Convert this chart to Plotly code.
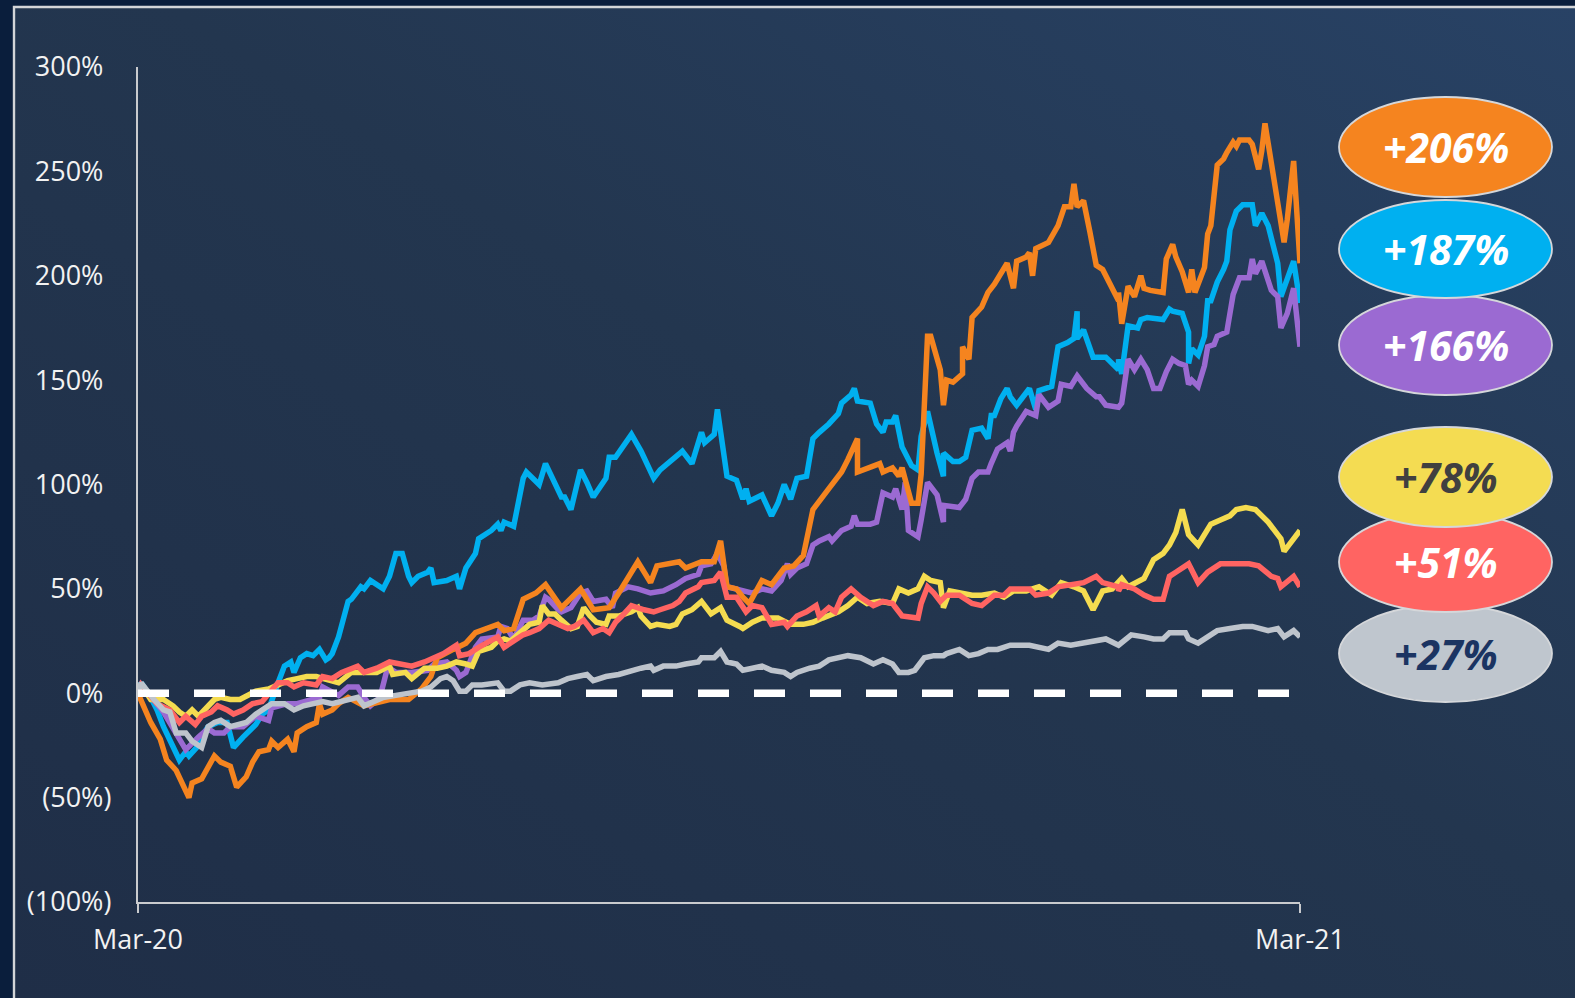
import base64
import pandas as pd
import plotly.graph_objects as go

# ---------------- data (days since 2 Mar 2020, % change) ----------------
START = "2020-03-02"

orange_days = [0,4,7,9,12,14,16,17,20,24,26,29,31,34,36,38,41,42,44,47,49,50,53,56,57,58,61,63,66,71,79,85,89,92,94,99,103,106,113,115,118,121,125,128,133,135,139,143,148,151,155,157,159,161,163,167,170,172,177,181,183,185,188,190,192,196,199,203,206,209,212,217,221,223,226,226,230,233,234,237,239,240,243,245,246,248,249,252,253,254,256,259,259,261,262,265,267,269,273,275,276,279,280,281,282,285,286,289,291,293,294,295,297,299,301,303,304,308,308,309,311,313,315,316,318,322,323,325,326,328,330,331,332,335,336,337,339,341,342,344,345,346,349,350,352,353,354,355,356,358,360,361,363,365]
orange_vals = [0,-14,-22,-32,-37,-43,-50,-43,-41,-30,-33,-35,-45,-40,-33,-28,-27,-23,-26,-22,-28,-19,-16,-14,-5,-10,-8,-5,-2,-6,-3,-3,2,8,17,21,24,29,33,30,31,45,48,52,41,44,50,40,41,48,58,63,58,53,61,62,63,60,63,63,73,51,50,46,43,54,52,60,61,66,88,98,106,112,122,106,108,110,106,108,104,108,91,91,105,171,171,155,138,150,149,153,166,160,180,185,192,196,206,194,207,209,211,200,213,215,216,224,233,233,244,233,236,221,205,203,200,188,192,177,195,190,200,194,193,192,208,215,209,202,192,203,192,204,220,224,253,256,259,264,262,265,265,263,251,260,273,263,253,235,216,227,255,206]

blue_days = [0,1,4,6,8,10,13,15,16,19,20,22,25,28,30,33,37,39,41,44,46,48,49,51,53,55,57,59,60,61,63,66,67,70,71,73,77,79,81,83,85,86,88,91,92,93,97,100,101,103,105,106,107,111,113,114,115,118,121,122,126,128,133,134,136,139,141,143,147,148,150,154,155,158,160,162,164,168,171,174,177,178,181,182,185,188,190,191,192,196,199,201,203,205,207,210,212,214,217,220,221,224,225,226,230,232,234,235,237,238,240,243,245,246,248,251,253,253,256,258,260,262,265,267,268,269,271,273,274,276,280,282,283,287,289,292,294,295,295,297,300,304,308,308,309,311,314,315,317,322,324,325,328,330,330,331,333,335,336,337,339,341,342,343,345,347,350,351,353,355,356,358,359,361,363,365]
blue_vals = [0,5,-2,-8,-16,-22,-32,-28,-30,-25,-21,-16,-14,-14,-26,-21,-15,-10,-8,5,13,15,10,17,19,18,21,16,17,19,27,44,45,51,50,54,50,56,67,67,56,53,56,58,60,53,54,56,50,60,64,67,74,78,81,78,82,80,103,106,100,110,94,94,88,107,101,94,103,113,113,122,124,116,110,103,107,112,116,110,125,120,124,136,104,102,93,98,92,95,85,91,100,93,103,104,122,125,129,134,139,143,146,140,139,129,125,130,130,133,118,109,107,123,135,115,104,115,111,111,113,126,127,122,133,133,141,146,142,138,146,136,145,147,166,168,170,183,170,174,161,161,155,160,153,176,175,179,180,179,184,183,182,173,158,165,162,171,188,188,197,203,207,222,231,234,234,224,230,224,217,206,190,199,207,187]

purple_days = [0,1,8,11,15,19,22,24,27,29,33,37,41,42,47,50,53,57,58,63,66,69,71,73,76,78,79,81,86,91,93,97,100,101,103,106,108,113,114,116,118,121,124,126,128,129,132,133,136,139,141,143,147,149,150,154,157,161,165,169,172,176,177,180,182,184,185,188,190,193,196,199,202,204,205,207,210,212,214,217,218,220,221,224,225,226,230,232,234,237,238,240,241,242,245,246,248,251,253,253,258,260,262,264,267,268,270,273,274,275,276,279,282,283,286,289,290,293,295,298,301,302,304,308,309,311,313,315,317,319,321,323,325,327,329,330,331,333,335,336,338,339,342,344,346,349,350,351,353,356,358,359,361,363,365]
purple_vals = [0,4,-9,-17,-27,-21,-17,-19,-19,-16,-16,-11,-13,-7,-5,-5,-4,-2,3,-1,3,3,-2,-6,-2,10,12,10,10,11,14,15,11,8,10,22,26,27,32,31,26,35,35,37,46,45,40,39,41,48,49,44,45,41,48,51,50,48,49,52,55,57,61,62,67,61,51,50,49,48,50,49,54,62,57,60,62,71,73,75,73,77,78,80,85,81,81,82,96,94,98,88,101,78,75,83,101,95,82,90,89,93,103,106,106,110,117,120,116,125,128,135,133,143,137,140,148,147,152,146,142,142,138,137,139,160,155,160,155,146,146,154,160,158,157,148,150,147,157,166,167,171,173,191,199,199,208,201,207,193,190,175,182,194,166]

yellow_days = [0,1,4,8,11,13,15,17,19,22,24,26,29,32,35,37,41,44,47,50,53,56,60,63,67,71,75,79,80,84,86,90,94,97,100,103,105,107,111,113,115,117,120,123,126,127,129,131,133,136,138,140,142,144,147,148,151,155,157,158,161,163,167,169,171,174,177,180,183,185,189,190,193,196,201,205,209,212,215,220,223,226,229,233,237,239,242,245,247,249,252,253,255,258,262,265,269,272,275,279,283,287,290,294,297,300,303,306,309,311,315,316,319,322,324,326,328,330,333,337,340,343,345,348,351,355,358,359,360,363,365]
yellow_vals = [0,4,-3,-3,-6,-9,-11,-8,-11,-6,-3,-2,-3,-3,-1,1,2,4,6,7,8,8,6,5,10,10,10,13,9,10,7,12,12,13,15,14,13,20,22,25,26,25,29,33,34,42,38,38,35,31,32,41,37,34,33,37,37,39,41,37,32,33,32,33,38,40,44,38,41,35,32,31,34,36,36,33,33,34,36,39,42,46,43,44,43,50,48,50,56,54,53,41,49,48,47,47,48,46,49,49,51,47,53,51,49,40,49,50,55,51,54,55,64,67,71,77,88,76,71,81,83,85,88,89,88,82,76,74,68,74,78]

red_days = [0,1,6,10,13,15,18,20,23,25,28,30,33,36,39,42,44,47,49,52,56,58,61,64,67,69,71,75,79,83,86,90,93,96,99,100,101,104,107,111,113,115,118,121,123,126,129,132,135,137,140,143,146,148,150,152,155,159,162,164,168,170,172,176,177,181,183,185,188,191,193,196,199,203,204,207,210,213,214,217,219,221,224,227,231,234,237,240,243,245,246,248,250,252,254,258,262,265,269,272,274,280,282,286,289,293,297,301,303,308,308,309,313,316,319,322,324,326,328,330,333,336,340,344,349,352,356,358,359,363,365]
red_vals = [0,4,-5,-8,-14,-11,-15,-11,-9,-6,-8,-10,-8,-5,-4,2,5,5,3,5,4,8,7,10,12,13,10,12,15,14,13,15,17,19,22,23,18,19,22,25,27,22,25,28,29,31,35,33,31,32,35,29,31,29,34,37,42,40,39,40,42,44,48,51,53,54,58,46,46,39,42,41,33,34,32,37,39,42,37,41,39,46,50,46,42,44,43,37,36,36,43,51,48,44,47,47,43,42,47,47,50,50,47,48,51,52,53,56,53,51,49,52,50,47,45,45,56,58,60,62,53,58,62,62,62,61,56,55,51,56,51]

gray_days = [0,1,5,8,10,12,15,17,20,22,24,26,29,31,34,37,39,42,46,49,52,55,58,61,64,69,71,74,77,81,85,89,92,95,97,99,101,103,105,108,113,115,117,120,123,127,132,135,138,141,143,147,151,155,158,161,162,165,169,172,176,177,181,183,185,188,190,193,196,199,203,205,207,211,214,217,221,223,227,231,234,237,239,242,244,247,250,253,254,258,261,264,267,270,274,277,280,286,289,293,297,301,304,308,312,316,319,322,324,329,330,333,336,339,343,347,350,355,358,360,363,365]
gray_vals = [0,5,-3,-8,-9,-19,-19,-23,-26,-16,-14,-13,-16,-15,-14,-10,-8,-5,-5,-8,-6,-5,-4,-5,-4,-2,-6,-4,-2,-1,0,1,3,7,8,6,1,1,4,4,5,1,1,4,5,4,5,7,8,9,6,8,9,11,12,13,11,13,13,14,15,17,17,20,15,14,11,12,13,11,10,8,10,12,13,16,17,18,17,14,16,14,10,10,11,17,18,18,19,21,18,19,21,21,23,23,23,21,24,23,24,25,26,23,28,27,26,26,29,29,26,24,27,30,31,32,32,30,31,27,30,27]

end_labels = ["+206%", "+187%", "+166%", "+78%", "+51%", "+27%"]
y_ticks = [-100, -50, 0, 50, 100, 150, 200, 250, 300]
x_tick_labels = ["Mar-20", "Mar-21"]

# ---------------- styling ----------------
W, H = 1575, 998
C_ORANGE, C_BLUE, C_PURPLE = "#f5841f", "#00b0f0", "#9b6ad2"
C_YELLOW, C_RED, C_GRAY = "#f5dc50", "#ff6462", "#bec4cc"
AXIS_C = "#c9cbce"
TXT_C = "#f2f2f2"

start = pd.Timestamp(START)
def to_dates(days):
    return start + pd.to_timedelta(days, unit="D")

def ytext(v):
    if v < 0:
        return f"({abs(v)}%)"
    return f"{v}%<span style='color:rgba(0,0,0,0)'>)</span>"

fig = go.Figure()

series = [
    (blue_days, blue_vals, C_BLUE),
    (purple_days, purple_vals, C_PURPLE),
    (orange_days, orange_vals, C_ORANGE),
    (yellow_days, yellow_vals, C_YELLOW),
    (red_days, red_vals, C_RED),
    (gray_days, gray_vals, C_GRAY),
]
for d, v, c in series:
    fig.add_trace(go.Scatter(x=to_dates(d), y=v, mode="lines",
                             line=dict(color=c, width=5.5), hoverinfo="skip"))

# dashed zero line on top
fig.add_trace(go.Scatter(x=to_dates([0, 365]), y=[0, 0], mode="lines",
                         line=dict(color="white", width=7.5, dash="31px,25px"),
                         hoverinfo="skip"))

# background panel as svg image
svg = f'''<svg xmlns="http://www.w3.org/2000/svg" width="{W}" height="{H}" viewBox="0 0 {W} {H}" preserveAspectRatio="none">
<defs><linearGradient id="g" x1="0" y1="1" x2="1" y2="0">
<stop offset="0" stop-color="#1f2e47"/><stop offset="0.55" stop-color="#23364f"/><stop offset="1" stop-color="#284265"/>
</linearGradient></defs>
<rect width="{W}" height="{H}" fill="#0a1e3c"/>
<rect x="13" y="6" width="{W-13}" height="{H-6}" fill="url(#g)"/>
<path d="M14 {H} V7 H{W}" stroke="#d3d5d8" stroke-width="2.4" fill="none"/>
</svg>'''
src = "data:image/svg+xml;base64," + base64.b64encode(svg.encode()).decode()
fig.add_layout_image(dict(source=src, xref="paper", yref="paper", x=0, y=1,
                          sizex=1, sizey=1, sizing="stretch", layer="below",
                          xanchor="left", yanchor="top"))

# plot area in pixels
PL, PR, PT, PB = 138, 1300, 67, 902

fig.update_layout(
    template="none",
    width=W, height=H,
    margin=dict(l=0, r=0, t=0, b=0, pad=0, autoexpand=False),
    paper_bgcolor="#0a1e3c", plot_bgcolor="rgba(0,0,0,0)",
    showlegend=False, hovermode=False,
    font=dict(family="Open Sans", color=TXT_C, size=27),
    xaxis=dict(domain=[PL / W, PR / W], type="date", automargin=False,
               range=[to_dates([0])[0], to_dates([365])[0]],
               tickvals=list(to_dates([0, 365])), ticktext=x_tick_labels,
               showgrid=False, zeroline=False, showline=True,
               linecolor=AXIS_C, linewidth=2.4,
               ticks="outside", ticklen=9, tickwidth=2.4, tickcolor=AXIS_C,
               tickfont=dict(size=27, color=TXT_C, family="Open Sans"),
               ticklabelstandoff=3),
    yaxis=dict(domain=[1 - PB / H, 1 - PT / H], range=[-100, 300], automargin=False,
               tickvals=y_ticks, ticktext=[ytext(v) for v in y_ticks],
               showgrid=False, zeroline=False, showline=True,
               linecolor=AXIS_C, linewidth=2.4, ticks="",
               tickfont=dict(size=27, color=TXT_C, family="Open Sans"),
               ticklabelstandoff=19),
)

# end-value ellipses
ell = [  # (top px, bottom px, fill, text color, label index) drawn bottom to top
    (295, 395, C_PURPLE, "white", 2),
    (200, 298, C_BLUE, "white", 1),
    (97, 197, C_ORANGE, "white", 0),
    (605, 702, "#bfc6ce", "#1b3462", 5),
    (512, 612, "#ff6462", "white", 4),
    (427, 527, "#f4dc52", "#404040", 3),
]
EX0, EX1 = 1339, 1552
for top, bot, fill, tc, idx in ell:
    fig.add_shape(type="circle", xref="paper", yref="paper",
                  x0=EX0 / W, x1=EX1 / W, y0=1 - bot / H, y1=1 - top / H,
                  fillcolor=fill, line=dict(color="#d5d7da", width=1.8),
                  layer="above")
    fig.add_annotation(xref="paper", yref="paper", x=(EX0 + EX1) / 2 / W,
                       y=1 - (top + bot) / 2 / H, text=f"<b><i>{end_labels[idx]}</i></b>",
                       showarrow=False, xanchor="center", yanchor="middle",
                       font=dict(family="Open Sans", size=41, color=tc))

fig.write_html("out.html")
